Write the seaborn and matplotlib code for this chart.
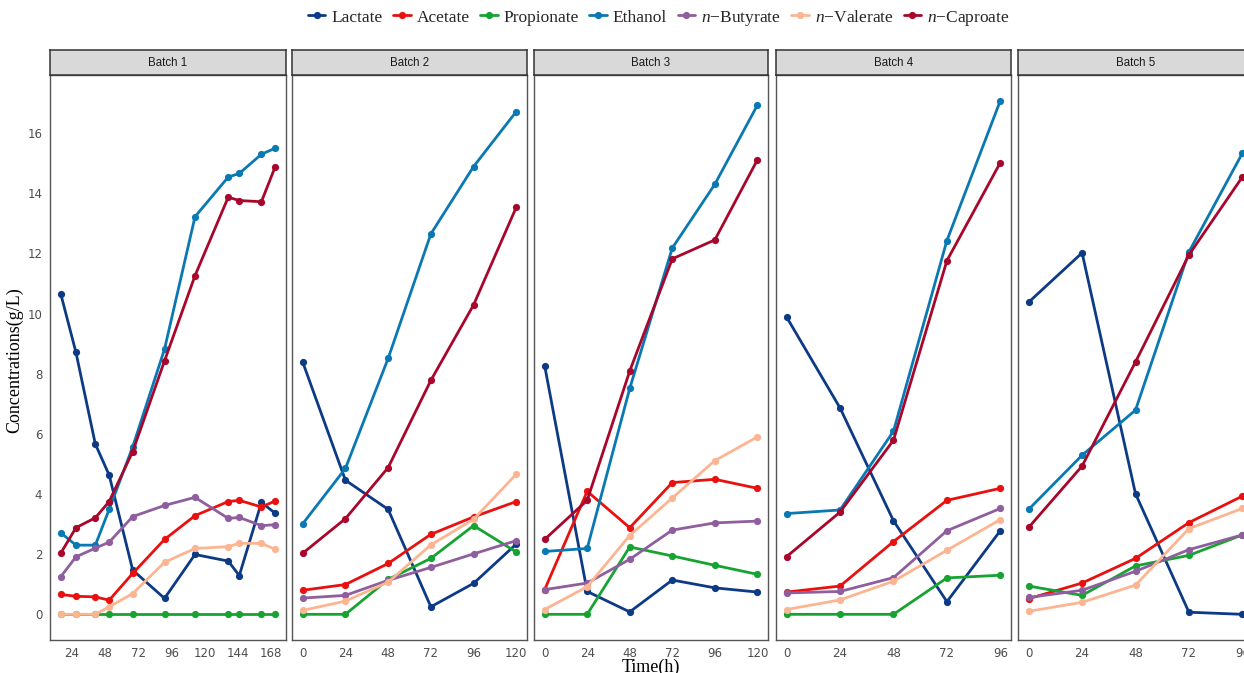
import numpy as np
import pandas as pd
import matplotlib
matplotlib.use("Agg")
import matplotlib.pyplot as plt
from matplotlib.lines import Line2D
import seaborn as sns

sns.set_theme(style="white")
plt.rcParams["mathtext.fontset"] = "custom"
plt.rcParams["mathtext.rm"] = "Liberation Serif"
plt.rcParams["mathtext.it"] = "Liberation Serif:italic"

# ---- data -------------------------------------------------------------
species = ["Lactate", "Acetate", "Propionate", "Ethanol",
           "n-Butyrate", "n-Valerate", "n-Caproate"]
legend_labels = ["Lactate", "Acetate", "Propionate", "Ethanol",
                 r"$\mathit{n}$−Butyrate", r"$\mathit{n}$−Valerate",
                 r"$\mathit{n}$−Caproate"]
colors = ["#0C3A85", "#E8110F", "#17A331", "#0A78B2",
          "#8F5E9E", "#FCB592", "#A8062A"]

batches = ["Batch 1", "Batch 2", "Batch 3", "Batch 4", "Batch 5"]

time_b1 = [16, 27, 41, 51, 68, 91, 113, 137, 145, 161, 171]
time_b2 = [0, 24, 48, 72, 96, 120]
time_b3 = [0, 24, 48, 72, 96, 120]
time_b4 = [0, 24, 48, 72, 96]
time_b5 = [0, 24, 48, 72, 96]

b1 = {
    "Lactate":    [10.66, 8.71, 5.66, 4.63, 1.47, 0.53, 1.99, 1.77, 1.29, 3.72, 3.36],
    "Acetate":    [0.66, 0.60, 0.58, 0.47, 1.36, 2.49, 3.28, 3.75, 3.79, 3.57, 3.77],
    "Propionate": [0, 0, 0, 0, 0, 0, 0, 0, 0, 0, 0],
    "Ethanol":    [2.71, 2.30, 2.30, 3.49, 5.57, 8.82, 13.22, 14.54, 14.66, 15.30, 15.50],
    "n-Butyrate": [1.25, 1.91, 2.20, 2.40, 3.25, 3.62, 3.89, 3.19, 3.22, 2.95, 2.98],
    "n-Valerate": [0, 0, 0, 0.25, 0.69, 1.73, 2.19, 2.25, 2.36, 2.36, 2.16],
    "n-Caproate": [2.03, 2.88, 3.21, 3.75, 5.41, 8.43, 11.26, 13.87, 13.76, 13.72, 14.89],
}
b2 = {
    "Lactate":    [8.39, 4.46, 3.49, 0.25, 1.03, 2.34],
    "Acetate":    [0.80, 0.99, 1.69, 2.66, 3.24, 3.75],
    "Propionate": [0, 0, 1.16, 1.86, 2.95, 2.07],
    "Ethanol":    [3.01, 4.85, 8.51, 12.65, 14.89, 16.72],
    "n-Butyrate": [0.54, 0.63, 1.13, 1.56, 2.01, 2.45],
    "n-Valerate": [0.13, 0.44, 1.07, 2.31, 3.16, 4.66],
    "n-Caproate": [2.03, 3.18, 4.88, 7.78, 10.29, 13.54],
}
b3 = {
    "Lactate":    [8.27, 0.76, 0.08, 1.14, 0.88, 0.74],
    "Acetate":    [0.82, 4.09, 2.88, 4.38, 4.49, 4.19],
    "Propionate": [0, 0, 2.24, 1.94, 1.63, 1.33],
    "Ethanol":    [2.09, 2.19, 7.51, 12.18, 14.30, 16.93],
    "n-Butyrate": [0.82, 1.04, 1.83, 2.80, 3.04, 3.10],
    "n-Valerate": [0.16, 0.92, 2.62, 3.87, 5.11, 5.90],
    "n-Caproate": [2.49, 3.79, 8.09, 11.82, 12.45, 15.11],
}
b4 = {
    "Lactate":    [9.88, 6.86, 3.11, 0.42, 2.78],
    "Acetate":    [0.74, 0.94, 2.42, 3.79, 4.19],
    "Propionate": [0, 0, 0, 1.21, 1.30],
    "Ethanol":    [3.35, 3.47, 6.09, 12.43, 17.08],
    "n-Butyrate": [0.71, 0.76, 1.22, 2.78, 3.52],
    "n-Valerate": [0.16, 0.48, 1.10, 2.13, 3.15],
    "n-Caproate": [1.92, 3.40, 5.79, 11.76, 15.02],
}
b5 = {
    "Lactate":    [10.38, 12.02, 4.01, 0.07, 0.0],
    "Acetate":    [0.52, 1.04, 1.86, 3.05, 3.93],
    "Propionate": [0.94, 0.63, 1.61, 1.96, 2.64],
    "Ethanol":    [3.49, 5.29, 6.79, 12.05, 15.33],
    "n-Butyrate": [0.56, 0.80, 1.43, 2.15, 2.64],
    "n-Valerate": [0.10, 0.40, 0.97, 2.85, 3.52],
    "n-Caproate": [2.89, 4.93, 8.39, 11.95, 14.54],
}

x_ticks = [
    [24, 48, 72, 96, 120, 144, 168],
    [0, 24, 48, 72, 96, 120],
    [0, 24, 48, 72, 96, 120],
    [0, 24, 48, 72, 96],
    [0, 24, 48, 72, 96],
]
y_ticks = [0, 2, 4, 6, 8, 10, 12, 14, 16]

# ---- long table --------------------------------------------------------
rows = []
for name, times, table in zip(batches, [time_b1, time_b2, time_b3, time_b4, time_b5],
                              [b1, b2, b3, b4, b5]):
    for sp in species:
        for t, v in zip(times, table[sp]):
            rows.append((name, sp, t, v))
df = pd.DataFrame(rows, columns=["batch", "species", "time", "conc"])
palette = dict(zip(species, colors))

# ---- figure layout (pixel geometry on a 1244 x 673 canvas) -------------
W, H = 1244, 673
fig = plt.figure(figsize=(W / 100, H / 100), dpi=100)
panel_x = [(50, 286), (292, 527), (534, 768), (776, 1011), (1018, 1253)]
panel_top, panel_bot = 75, 640
strip_top = 50

ymax_all = df["conc"].max()
ypad = 0.05 * ymax_all
border_col = "#555555"

for i, (name, (x0, x1)) in enumerate(zip(batches, panel_x)):
    ax = fig.add_axes([x0 / W, 1 - panel_bot / H, (x1 - x0) / W,
                       (panel_bot - panel_top) / H])
    sub = df[df["batch"] == name]
    sns.lineplot(data=sub, x="time", y="conc", hue="species", hue_order=species,
                 palette=palette, marker="o", markersize=5.2, markeredgewidth=0,
                 linewidth=2.0, legend=False, ax=ax, sort=False)
    tmin, tmax = sub["time"].min(), sub["time"].max()
    xpad = 0.05 * (tmax - tmin)
    ax.set_xlim(tmin - xpad, tmax + xpad)
    ax.set_ylim(-ypad, ymax_all + ypad)
    ax.set_xticks(x_ticks[i])
    ax.set_xticklabels([str(t) for t in x_ticks[i]])
    ax.set_yticks(y_ticks)
    if i == 0:
        ax.set_yticklabels([str(v) for v in y_ticks])
    else:
        ax.set_yticklabels([])
        ax.tick_params(axis="y", length=0)
    ax.set_xlabel("")
    ax.set_ylabel("")
    ax.tick_params(axis="both", labelsize=8.5, labelcolor="#4D4D4D",
                   color=border_col, direction="out", width=0.8)
    ax.tick_params(axis="x", length=3.5, pad=1.5)
    if i == 0:
        ax.tick_params(axis="y", length=3.5, pad=2)
    for s in ax.spines.values():
        s.set_color(border_col)
        s.set_linewidth(1.0)
    ax.set_facecolor("white")
    ax.grid(False)

    # facet strip
    sax = fig.add_axes([x0 / W, 1 - panel_top / H, (x1 - x0) / W,
                        (panel_top - strip_top) / H])
    sax.set_facecolor("#D9D9D9")
    sax.set_xticks([])
    sax.set_yticks([])
    for s in sax.spines.values():
        s.set_color("#333333")
        s.set_linewidth(1.1)
    sax.text(0.5, 0.5, name, ha="center", va="center", fontsize=8.3,
             color="#1A1A1A", family="Liberation Sans", transform=sax.transAxes)

# axis titles
fig.text(15 / W, 1 - 360 / H, "Concentrations(g/L)", rotation=90,
         ha="center", va="center", fontsize=13, family="Liberation Serif",
         color="black")
fig.text(651 / W, 1 - 659 / H, "Time(h)", ha="center", va="top",
         fontsize=13, family="Liberation Serif", color="black")

# legend
handles = [Line2D([0], [0], color=c, lw=2.0, marker="o", markersize=5.2,
                  markeredgewidth=0) for c in colors]
fig.legend(handles, legend_labels, loc="center", ncol=7,
           bbox_to_anchor=(659 / W, 1 - 18 / H), frameon=False,
           prop={"family": "Liberation Serif", "size": 12.5},
           handlelength=1.0, handletextpad=0.35, columnspacing=0.6)

fig.savefig("out.png", dpi=100)
